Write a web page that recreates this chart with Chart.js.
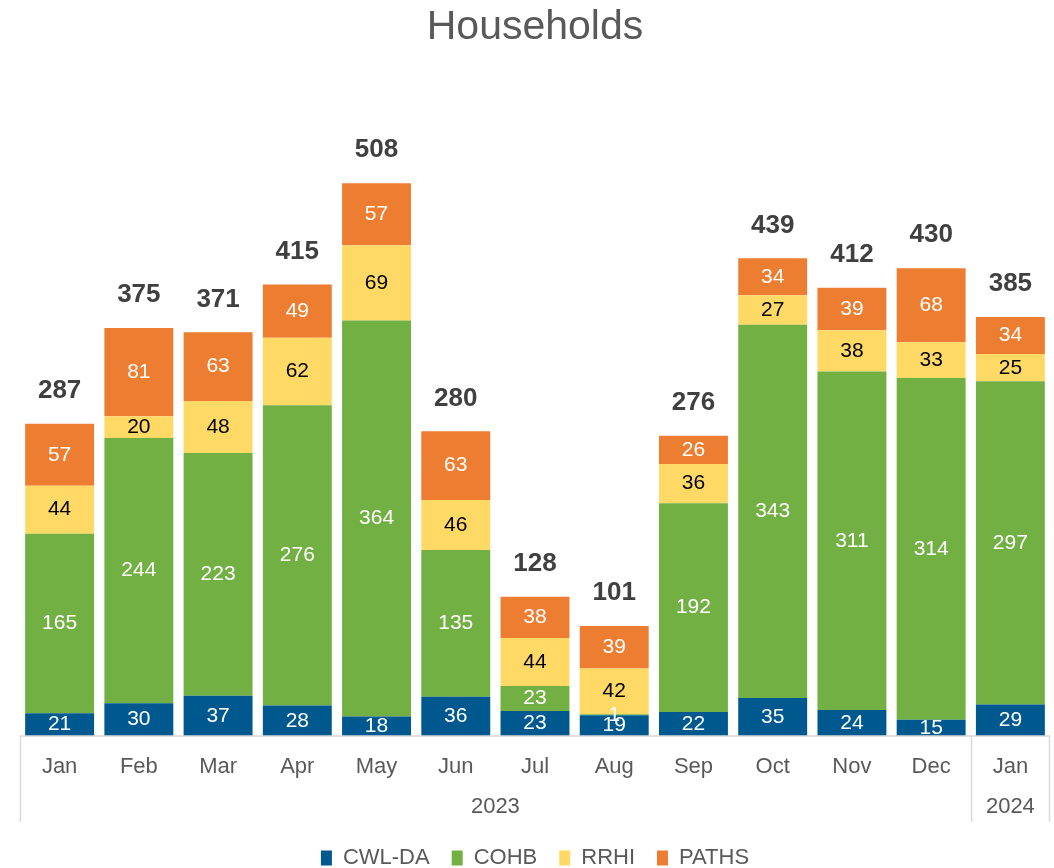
<!DOCTYPE html>
<html>
<head>
<meta charset="utf-8">
<script src="https://cdn.jsdelivr.net/npm/chart.js@4.4.1/dist/chart.umd.min.js"></script>
<style>
  body { margin: 0; background: #fff; }
  #wrap { width: 1054px; height: 868px; position: relative; }
</style>
</head>
<body>
<div id="wrap"><canvas id="households"></canvas></div>
<script>
// months + year groups
const months = ['Jan', 'Feb', 'Mar', 'Apr', 'May', 'Jun', 'Jul', 'Aug', 'Sep', 'Oct', 'Nov', 'Dec', 'Jan'];
const yearGroups = [
  { label: '2023', from: 0, to: 11 },
  { label: '2024', from: 12, to: 12 }
];

// series values
const cwlda = [21, 30, 37, 28, 18, 36, 23, 19, 22, 35, 24, 15, 29];
const cohb  = [165, 244, 223, 276, 364, 135, 23, 1, 192, 343, 311, 314, 297];
const rrhi  = [44, 20, 48, 62, 69, 46, 44, 42, 36, 27, 38, 33, 25];
const paths = [57, 81, 63, 49, 57, 63, 38, 39, 26, 34, 39, 68, 34];

const font = "Arial, 'Liberation Sans', sans-serif";
const grey = '#595959';

// labels in the segments + total above each bar
const labelPlugin = {
  id: 'barLabels',
  afterDatasetsDraw(chart) {
    const ctx = chart.ctx;
    ctx.save();
    ctx.textAlign = 'center';
    ctx.textBaseline = 'middle';
    ctx.font = '21px ' + font;
    chart.data.datasets.forEach((ds, di) => {
      const meta = chart.getDatasetMeta(di);
      meta.data.forEach((bar, i) => {
        const yMid = (bar.y + bar.base) / 2;
        ctx.fillStyle = ds.labelColor;
        ctx.fillText(ds.data[i], bar.x, yMid);
      });
    });
    // totals
    const last = chart.getDatasetMeta(chart.data.datasets.length - 1);
    ctx.font = 'bold 26px ' + font;
    ctx.fillStyle = '#404040';
    last.data.forEach((bar, i) => {
      const total = chart.data.datasets.reduce((s, ds) => s + ds.data[i], 0);
      ctx.fillText(total, bar.x, bar.y - 33);
    });
    ctx.restore();
  }
};

// year row + divider lines under the x axis
const yearAxisPlugin = {
  id: 'yearAxis',
  afterDraw(chart) {
    const ctx = chart.ctx;
    const x = chart.scales.x;
    const area = chart.chartArea;
    const half = (x.getPixelForValue(1) - x.getPixelForValue(0)) / 2;
    ctx.save();
    ctx.strokeStyle = '#d9d9d9';
    ctx.lineWidth = 1.5;
    ctx.beginPath();
    ctx.moveTo(area.left, area.bottom);
    ctx.lineTo(area.right, area.bottom);
    const edges = [area.left];
    yearGroups.forEach(g => edges.push(x.getPixelForValue(g.to) + half));
    edges.forEach(px => {
      const p = Math.min(Math.round(px), area.right - 1) + 0.5;
      ctx.moveTo(p, area.bottom);
      ctx.lineTo(p, area.bottom + 86);
    });
    ctx.stroke();
    ctx.fillStyle = grey;
    ctx.font = '22px ' + font;
    ctx.textAlign = 'center';
    ctx.textBaseline = 'middle';
    yearGroups.forEach(g => {
      const cx = (x.getPixelForValue(g.from) + x.getPixelForValue(g.to)) / 2;
      ctx.fillText(g.label, cx, area.bottom + 71);
    });
    ctx.restore();
  }
};

new Chart(document.getElementById('households'), {
  type: 'bar',
  data: {
    labels: months,
    datasets: [
      { label: 'CWL-DA', data: cwlda, backgroundColor: '#00598E', labelColor: '#ffffff' },
      { label: 'COHB', data: cohb, backgroundColor: '#72B043', labelColor: '#ffffff' },
      { label: 'RRHI', data: rrhi, backgroundColor: '#FFD966', labelColor: '#000000' },
      { label: 'PATHS', data: paths, backgroundColor: '#ED7D31', labelColor: '#ffffff' }
    ]
  },
  options: {
    responsive: true,
    maintainAspectRatio: false,
    animation: false,
    datasets: { bar: { barPercentage: 0.87, categoryPercentage: 1 } },
    layout: { padding: { left: 20, right: 4, top: 0, bottom: -11 } },
    scales: {
      x: {
        stacked: true,
        grid: { display: false, drawTicks: false },
        border: { display: false },
        ticks: { color: grey, font: { size: 22, family: font }, padding: 18 },
        afterFit(scale) { scale.height = 89; }
      },
      y: {
        stacked: true,
        display: false,
        min: 0,
        max: 600
      }
    },
    plugins: {
      title: {
        display: true,
        text: 'Households',
        color: grey,
        font: { size: 41, family: font, weight: 'normal' },
        padding: { top: 3, bottom: 31 }
      },
      legend: {
        position: 'bottom',
        labels: {
          color: grey,
          boxWidth: 11,
          boxHeight: 15,
          padding: 22,
          font: { size: 22, family: font }
        }
      },
      tooltip: { enabled: false }
    }
  },
  plugins: [labelPlugin, yearAxisPlugin]
});
</script>
</body>
</html>
